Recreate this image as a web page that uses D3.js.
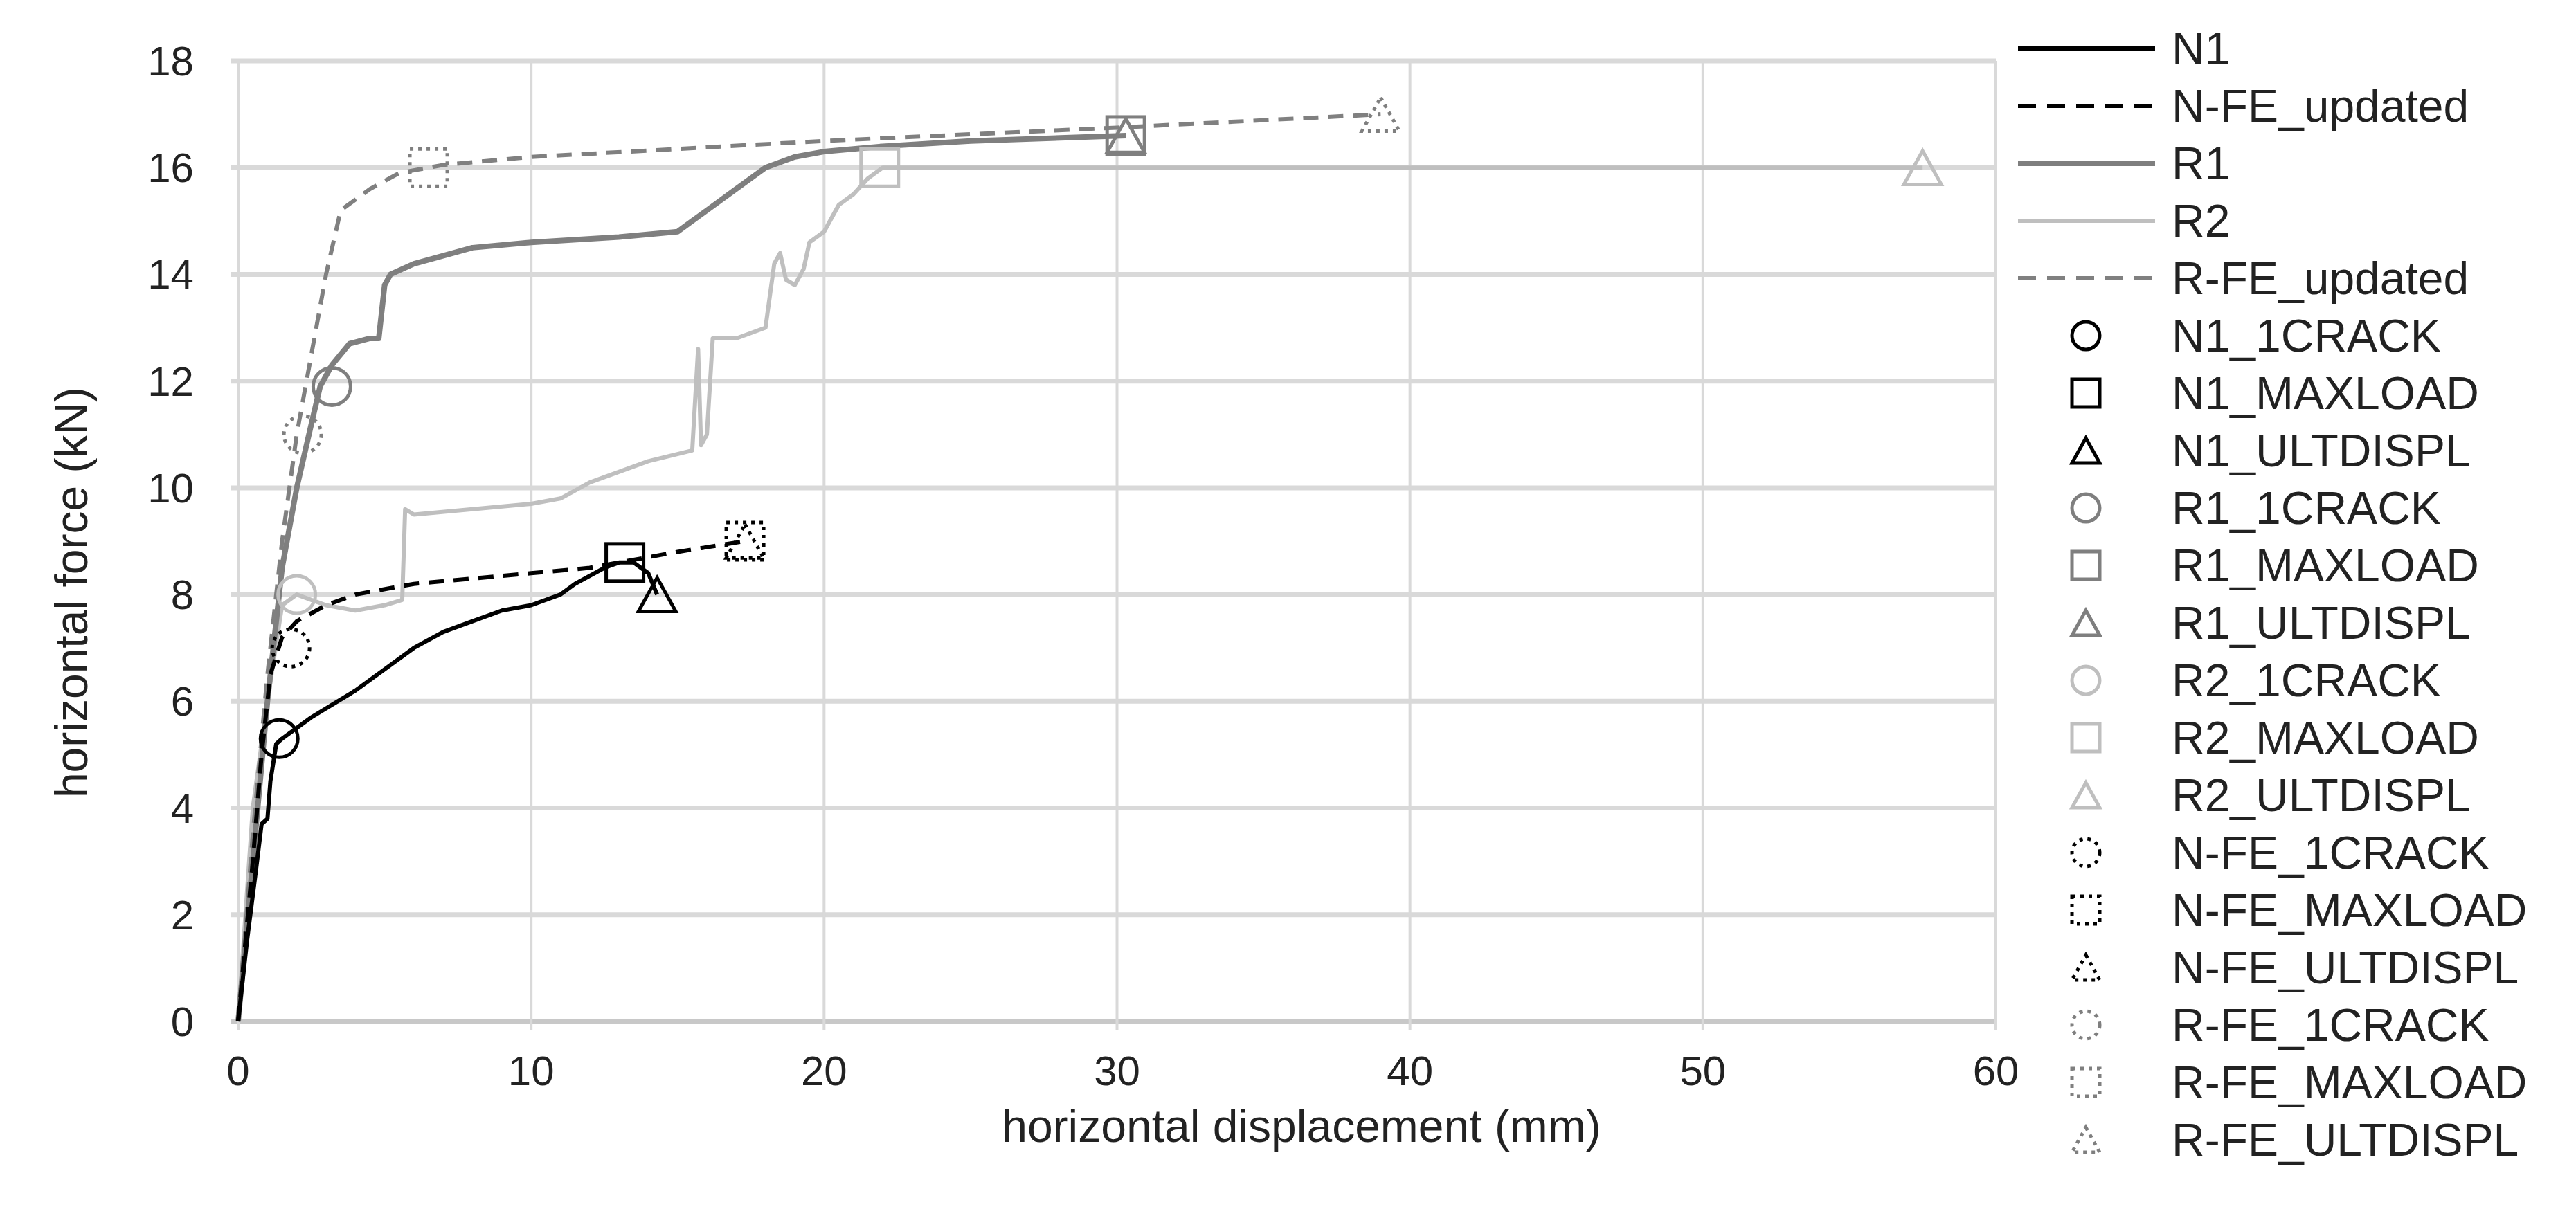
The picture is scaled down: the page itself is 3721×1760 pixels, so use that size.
<!DOCTYPE html>
<html>
<head>
<meta charset="utf-8">
<script src="https://cdn.jsdelivr.net/npm/d3@7"></script>
<style>
  body { margin: 0; background: #fff; }
  text { font-family: "Liberation Sans", Arial, sans-serif; }
</style>
</head>
<body>
<svg id="chart" width="3721" height="1760"></svg>
<script>
// data (mm, kN)
const n1 = [[0,0],[0.3,1.5],[0.6,2.8],[0.8,3.7],[1.0,3.8],[1.1,4.5],[1.3,5.2],[1.5,5.3],[2.5,5.7],[4,6.2],[5,6.6],[6,7.0],[7,7.3],[8,7.5],[9,7.7],[10,7.8],[11,8.0],[11.5,8.2],[12.5,8.5],[13,8.6],[13.5,8.6],[14,8.4],[14.3,8.0]];
const nFE = [[0,0],[0.5,3],[0.8,5],[1.1,6.5],[1.5,7.2],[2,7.5],[3,7.8],[4,8.0],[6,8.2],[8,8.3],[10,8.4],[12,8.5],[13,8.6],[15,8.8],[17.3,9.0]];
const r1 = [[0,0],[0.5,3],[1,6],[1.5,8.5],[2,10],[2.5,11.2],[2.8,11.9],[3.2,12.3],[3.8,12.7],[4.5,12.8],[4.8,12.8],[5,13.8],[5.2,14.0],[6,14.2],[8,14.5],[10,14.6],[13,14.7],[15,14.8],[15.5,15.0],[17,15.6],[18,16.0],[19,16.2],[20,16.3],[22,16.4],[25,16.5],[30.3,16.6]];
const r2 = [[0,0],[0.5,4],[1,6],[1.5,7.8],[2,8.0],[2.5,7.9],[3,7.8],[4,7.7],[5,7.8],[5.6,7.9],[5.7,9.6],[6,9.5],[8,9.6],[10,9.7],[11,9.8],[12,10.1],[14,10.5],[15.5,10.7],[15.7,12.6],[15.8,10.8],[16,11],[16.2,12.8],[17,12.8],[18,13.0],[18.3,14.2],[18.5,14.4],[18.7,13.9],[19,13.8],[19.3,14.1],[19.5,14.6],[20,14.8],[20.5,15.3],[21,15.5],[21.5,15.8],[22,16.0],[30,16.0],[40,16.0],[57.5,16.0]];
const rFE = [[0,0],[0.5,3.5],[1,6.5],[1.5,9],[2,11],[2.5,12.5],[3,14],[3.5,15.2],[4.5,15.6],[5.5,15.9],[7,16.05],[10,16.2],[15,16.35],[20,16.5],[30,16.75],[39,17.0]];

const lineSeries = ["N1", "N-FE_updated", "R1", "R2", "R-FE_updated"];
const markerSeries = ["N1_1CRACK","N1_MAXLOAD","N1_ULTDISPL","R1_1CRACK","R1_MAXLOAD","R1_ULTDISPL","R2_1CRACK","R2_MAXLOAD","R2_ULTDISPL","N-FE_1CRACK","N-FE_MAXLOAD","N-FE_ULTDISPL","R-FE_1CRACK","R-FE_MAXLOAD","R-FE_ULTDISPL"];
const markerPoints = [[1.4,5.3],[13.2,8.6],[14.3,8.0],[3.2,11.9],[30.3,16.6],[30.3,16.6],[2.0,8.0],[21.9,16.0],[57.5,16.0],[1.8,7.0],[17.3,9.0],[17.3,9.0],[2.2,11.0],[6.5,16.0],[39.0,17.0]];
const xTicks = [0,10,20,30,40,50,60];
const yTicks = [0,2,4,6,8,10,12,14,16,18];

const svg = d3.select("#chart");
const mLeft = 344, mRight = 2883, mTop = 88, mBottom = 1476;
const x = d3.scaleLinear().domain([0, 60]).range([mLeft, mRight]);
const y = d3.scaleLinear().domain([0, 18]).range([mBottom, mTop]);

// styles per series
const lineStyle = {
  "N1": {c: "#000", w: 6, dash: null},
  "N-FE_updated": {c: "#000", w: 6, dash: "22,14"},
  "R1": {c: "#7f7f7f", w: 8, dash: null},
  "R2": {c: "#bfbfbf", w: 6, dash: null},
  "R-FE_updated": {c: "#808080", w: 6, dash: "22,14"}
};
const seriesData = {"N1": n1, "N-FE_updated": nFE, "R1": r1, "R2": r2, "R-FE_updated": rFE};
function markerStyle(name) {
  const c = name.startsWith("N1") || name.startsWith("N-FE") ? "#000"
          : name.startsWith("R1") || name.startsWith("R-FE") ? "#7f7f7f" : "#bfbfbf";
  const shape = name.endsWith("1CRACK") ? "circle" : name.endsWith("MAXLOAD") ? "square" : "triangle";
  const dotted = name.includes("FE");
  return {c, shape, dotted};
}

// grid
svg.append("g").selectAll("line").data(yTicks).join("line")
  .attr("x1", mLeft - 10).attr("x2", mRight)
  .attr("y1", d => y(d)).attr("y2", d => y(d))
  .attr("stroke", d => d === 0 ? "#c8c8c8" : "#d9d9d9").attr("stroke-width", 7);
svg.append("g").selectAll("line").data(xTicks).join("line")
  .attr("x1", d => x(d)).attr("x2", d => x(d))
  .attr("y1", mTop).attr("y2", mBottom + 12)
  .attr("stroke", "#d9d9d9").attr("stroke-width", 4);

// tick labels
svg.append("g").selectAll("text").data(yTicks).join("text")
  .attr("x", 280).attr("y", d => y(d)).attr("dy", "0.35em")
  .attr("text-anchor", "end").attr("font-size", 60).attr("fill", "#222")
  .text(d => d);
svg.append("g").selectAll("text").data(xTicks).join("text")
  .attr("x", d => x(d)).attr("y", 1547).attr("dy", "0.35em")
  .attr("text-anchor", "middle").attr("font-size", 60).attr("fill", "#222")
  .text(d => d);

// axis titles
svg.append("text").attr("x", 1880).attr("y", 1627).attr("dy", "0.35em")
  .attr("text-anchor", "middle").attr("font-size", 66).attr("fill", "#222")
  .text("horizontal displacement (mm)");
svg.append("text").attr("transform", "translate(103,856) rotate(-90)").attr("dy", "0.35em")
  .attr("text-anchor", "middle").attr("font-size", 66).attr("fill", "#222")
  .text("horizontal force (kN)");

// lines
const line = d3.line().x(d => x(d[0])).y(d => y(d[1]));
["R2", "R1", "R-FE_updated", "N1", "N-FE_updated"].forEach(name => {
  const s = lineStyle[name];
  svg.append("path").datum(seriesData[name])
    .attr("d", line).attr("fill", "none")
    .attr("stroke", s.c).attr("stroke-width", s.w)
    .attr("stroke-dasharray", s.dash)
    .attr("stroke-linejoin", "round");
});

// marker drawing
function drawMarker(g, name, cx, cy, size, sw) {
  const st = markerStyle(name);
  let m;
  if (st.shape === "circle") {
    m = g.append("circle").attr("cx", cx).attr("cy", cy).attr("r", size / 2);
  } else if (st.shape === "square") {
    m = g.append("rect").attr("x", cx - size / 2).attr("y", cy - size / 2)
      .attr("width", size).attr("height", size);
  } else {
    const h = size * 0.9;
    m = g.append("path").attr("d",
      `M${cx},${cy - h / 2}L${cx + size / 2},${cy + h / 2}L${cx - size / 2},${cy + h / 2}Z`);
  }
  m.attr("fill", "none").attr("stroke", st.c).attr("stroke-width", sw)
    .attr("stroke-dasharray", st.dotted ? `${sw},${sw * 1.4}` : null);
}

const mg = svg.append("g");
markerSeries.forEach((name, i) => {
  const p = markerPoints[i];
  drawMarker(mg, name, x(p[0]), y(p[1]), 54, 5);
});

// legend
const lg = svg.append("g");
const rowH = 83, ly0 = 70;
lineSeries.forEach((name, i) => {
  const s = lineStyle[name];
  const yy = ly0 + i * rowH;
  lg.append("line").attr("x1", 2915).attr("x2", 3113).attr("y1", yy).attr("y2", yy)
    .attr("stroke", s.c).attr("stroke-width", s.w)
    .attr("stroke-dasharray", s.dash ? "26,16" : null);
  lg.append("text").attr("x", 3137).attr("y", yy).attr("dy", "0.35em")
    .attr("font-size", 66).attr("fill", "#222").text(name);
});
markerSeries.forEach((name, i) => {
  const yy = ly0 + (i + lineSeries.length) * rowH;
  drawMarker(lg, name, 3013, yy, 40, 5);
  lg.append("text").attr("x", 3137).attr("y", yy).attr("dy", "0.35em")
    .attr("font-size", 66).attr("fill", "#222").text(name);
});
</script>
</body>
</html>
